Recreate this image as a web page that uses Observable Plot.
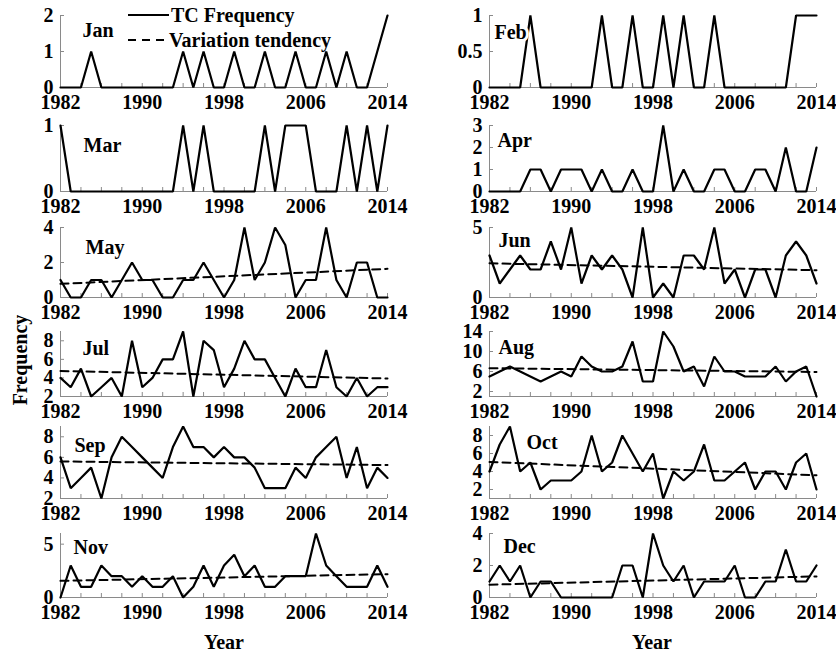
<!DOCTYPE html>
<html><head><meta charset="utf-8">
<script src="https://cdn.jsdelivr.net/npm/d3@7"></script>
<script src="https://cdn.jsdelivr.net/npm/@observablehq/plot@0.6"></script>
<style>
body{margin:0;background:#fff;}
#chart{position:relative;width:836px;height:652px;overflow:hidden;font-family:"Liberation Serif","Times New Roman",serif;font-weight:bold;color:#000;}
#chart svg{position:absolute;overflow:visible;background:transparent;}
.lbl{position:absolute;font-size:20px;font-weight:bold;white-space:nowrap;line-height:24px;}
</style></head><body><div id="chart"></div>
<script>
// ---------------- data ----------------
const years = [1982,1983,1984,1985,1986,1987,1988,1989,1990,1991,1992,1993,1994,1995,1996,1997,1998,1999,2000,2001,2002,2003,2004,2005,2006,2007,2008,2009,2010,2011,2012,2013,2014];
const xTickLabels = [1982, 1990, 1998, 2006, 2014];
const months = ["Jan","Feb","Mar","Apr","May","Jun","Jul","Aug","Sep","Oct","Nov","Dec"];

const jan = [0,0,0,1,0,0,0,0,0,0,0,0,1,0,1,0,0,1,0,0,1,0,0,1,0,0,1,0,1,0,0,1,2];
const feb = [0,0,0,0,1,0,0,0,0,0,0,1,0,0,1,0,0,1,0,1,0,0,1,0,0,0,0,0,0,0,1,1,1];
const mar = [1,0,0,0,0,0,0,0,0,0,0,0,1,0,1,0,0,0,0,0,1,0,1,1,1,0,0,0,1,0,1,0,1];
const apr = [0,0,0,0,1,1,0,1,1,1,0,1,0,0,1,0,0,3,0,1,0,0,1,1,0,0,1,1,0,2,0,0,2];
const may = [1,0,0,1,1,0,1,2,1,1,0,0,1,1,2,1,0,1,4,1,2,4,3,0,1,1,4,1,0,2,2,0,0];
const jun = [3,1,2,3,2,2,4,2,5,1,3,2,3,2,0,5,0,1,0,3,3,2,5,1,2,0,2,2,0,3,4,3,1];
const jul = [4,3,5,2,3,4,2,8,3,4,6,6,9,2,8,7,3,5,8,6,6,4,2,5,3,3,7,3,2,4,2,3,3];
const aug = [5,6,7,6,5,4,5,6,5,9,7,6,6,7,12,4,4,14,11,6,7,3,9,6,6,5,5,5,7,4,6,7,1];
const sep = [6,3,4,5,2,6,8,7,6,5,4,7,9,7,7,6,7,6,6,5,3,3,3,5,4,6,7,8,4,7,3,5,4];
const oct = [4,7,9,4,5,2,3,3,3,4,8,4,5,8,6,4,6,1,4,3,4,7,3,3,4,5,2,4,4,2,5,6,2];
const nov = [0,3,1,1,3,2,2,1,2,1,1,2,0,1,3,1,3,4,2,3,1,1,2,2,2,6,3,2,1,1,1,3,1];
const dec = [1,2,1,2,0,1,1,0,0,0,0,0,0,2,2,0,4,2,1,2,0,1,1,1,2,0,0,1,1,3,1,1,2];
const series = [jan,feb,mar,apr,may,jun,jul,aug,sep,oct,nov,dec];

// y-axis ranges and tick labels per month
const yDomains = [[0,2],[0,1],[0,1],[0,3],[0,4],[0,5],[2,9],[1,14],[2,9],[1,9],[0,6],[0,4]];
const yTicks = [[0,1,2],[0,0.5,1],[0,1],[0,1,2,3],[0,2,4],[0,5],[2,4,6,8],[2,6,10,14],[2,4,6,8],[2,4,6,8],[0,5],[0,2,4]];

// variation tendency (dashed) : value at 1982 and at 2014
const trendMonths = ["May","Jun","Jul","Aug","Sep","Oct","Nov","Dec"];
const trendStart = [0.78, 2.44, 4.75, 6.66, 5.6, 5.06, 1.56, 0.8];
const trendEnd   = [1.64, 1.95, 3.94, 5.9, 5.25, 3.58, 2.19, 1.32];

// ---------------- layout ----------------
const rowTop    = [15, 125, 227, 331, 426, 533];
const rowBottom = [87, 191, 297, 396, 498, 597];
const colLeft = [0, 420], colWidth = [420, 416], colML = [60, 69], colMR = [33, 20];
const labelDx = [22, 5, 23, 8, 25, 9, 22, 9, 14, 37, 13, 14];
const labelDy = [15, 17, 20, 15, 20, 13, 17, 16, 19, 16, 14, 13];
const mT = 10, mB = 34;
const axisGray = "#8a8a8a";

const chart = document.getElementById("chart");
const minorYears = years.filter(y => (y - years[0]) % 2 === 0);

months.forEach((m, i) => {
  const row = Math.floor(i / 2), col = i % 2;
  const plotH = rowBottom[row] - rowTop[row];
  const width = colWidth[col];
  const plotW = width - colML[col] - colMR[col];
  const data = years.map((y, k) => ({year: y, value: series[i][k]}));
  const ti = trendMonths.indexOf(m);
  const trend = ti < 0 ? [] : [{year: years[0], value: trendStart[ti]}, {year: years[years.length - 1], value: trendEnd[ti]}];
  const dom = yDomains[i];
  const svg = Plot.plot({
    width, height: plotH + mT + mB,
    marginTop: mT, marginBottom: mB, marginLeft: colML[col], marginRight: colMR[col],
    x: {domain: [years[0], years[years.length - 1]]},
    y: {domain: dom},
    style: {fontFamily: '"Liberation Serif","Times New Roman",serif', fontSize: "20px", fontWeight: "bold", background: "transparent", overflow: "visible", color: "#000"},
    marks: [
      Plot.ruleY([dom[0]], {stroke: axisGray, strokeWidth: 1}),
      Plot.ruleX([years[0]], {stroke: axisGray, strokeWidth: 1}),
      Plot.tickX(minorYears, {x: d => d, insetTop: plotH - 4, stroke: axisGray}),
      Plot.tickY(yTicks[i], {y: d => d, insetRight: plotW - 4, stroke: axisGray}),
      Plot.axisX({ticks: xTickLabels, tickSize: 0, tickPadding: 7, tickFormat: d => String(d), label: null, fontSize: 20, fontWeight: "bold"}),
      Plot.axisY({ticks: yTicks[i], tickSize: 0, tickPadding: 7, tickFormat: d => String(d), label: null, fontSize: 20, fontWeight: "bold"}),
      Plot.line(trend, {x: "year", y: "value", stroke: "#000", strokeWidth: 2, strokeDasharray: "8,5"}),
      Plot.line(data, {x: "year", y: "value", stroke: "#000", strokeWidth: 2.2, strokeLinejoin: "miter"}),
      Plot.text([m], {text: d => d, frameAnchor: "top-left", textAnchor: "start", lineAnchor: "middle",
        dx: labelDx[i], dy: labelDy[i], fontSize: 20, fontWeight: "bold", fill: "#000", stroke: "white", strokeWidth: 6})
    ]
  });
  svg.style.left = colLeft[col] + "px";
  svg.style.top = (rowTop[row] - mT) + "px";
  chart.appendChild(svg);
});

// legend (inside Jan panel)
function legendRow(top, dash, text, lineW, gap) {
  const d = document.createElement("div");
  d.className = "lbl";
  d.style.left = "128px"; d.style.top = top + "px";
  d.style.display = "flex"; d.style.alignItems = "center";
  d.innerHTML = `<svg width="${lineW}" height="24" style="position:static;overflow:visible"><line x1="0" x2="${lineW}" y1="12" y2="12" stroke="#000" stroke-width="2" ${dash ? 'stroke-dasharray="8,6"' : ''}/></svg><span style="margin-left:${gap}px">${text}</span>`;
  chart.appendChild(d);
}
legendRow(3, false, "TC Frequency", 41, 2);
legendRow(28, true, "Variation tendency", 36, 5);

// axis titles
const ylab = document.createElement("div");
ylab.className = "lbl"; ylab.textContent = "Frequency";
ylab.style.left = "20px"; ylab.style.top = "360px";
ylab.style.transform = "translate(-50%,-50%) rotate(-90deg)";
chart.appendChild(ylab);
[[224, 642], [652, 642]].forEach(([x, y]) => {
  const t = document.createElement("div");
  t.className = "lbl"; t.textContent = "Year";
  t.style.left = x + "px"; t.style.top = y + "px";
  t.style.transform = "translate(-50%,-50%)";
  chart.appendChild(t);
});
</script></body></html>
